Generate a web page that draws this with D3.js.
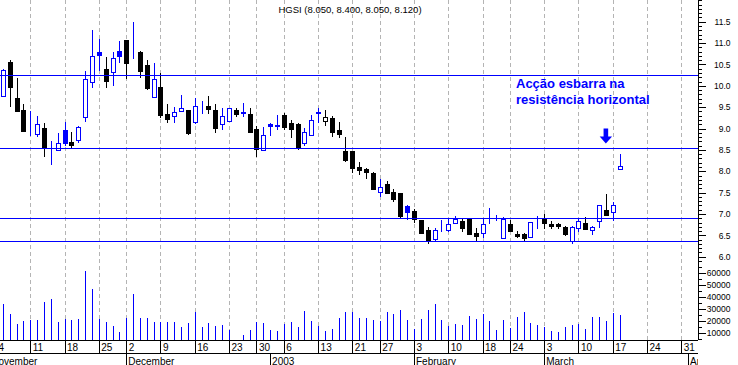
<!DOCTYPE html>
<html><head><meta charset="utf-8">
<script src="https://cdn.jsdelivr.net/npm/d3@7"></script>
<style>body{margin:0;background:#fff}svg{display:block;font-family:"Liberation Sans",Arial,sans-serif}</style>
</head><body>
<svg id="c" width="738" height="365"></svg>
<script>
// ---------- data ----------
const title = "HGSI (8.050, 8.400, 8.050, 8.120)";
const noteLines = ["Acção esbarra na", "resistência horizontal"];
const holidays = ["2002-11-28", "2002-12-25", "2003-01-01", "2003-01-20", "2003-02-17"];
const monthLabels = {"2002-11": "November", "2002-12": "December", "2003-01": "2003", "2003-02": "February", "2003-03": "March", "2003-04": "April"};
const levels = [10.25, 8.54, 6.90, 6.37];
const priceTicks = [6.0, 6.5, 7.0, 7.5, 8.0, 8.5, 9.0, 9.5, 10.0, 10.5, 11.0, 11.5];
const volumeTicks = [10000, 20000, 30000, 40000, 50000, 60000];
const firstCandle = "2002-11-05";
const open  = [9.77,10.56,9.71,9.43,9.00,8.87,9.01,8.62,8.49,8.96,8.68,8.72,9.28,10.10,10.79,10.39,10.33,10.81,11.07,10.85,10.79,10.49,9.73,9.97,9.33,9.29,9.41,9.43,9.16,9.56,9.53,9.43,9.10,9.18,9.43,9.38,9.33,9.00,8.49,9.11,9.08,9.32,9.13,9.11,8.67,8.84,9.38,9.17,9.24,8.97,8.47,8.47,8.10,8.05,7.95,7.51,7.70,7.52,7.50,7.19,7.08,6.86,6.63,6.41,6.69,6.62,6.79,6.84,6.89,6.55,6.55,6.89,6.89,6.43,6.77,6.52,6.53,6.47,6.82,6.89,6.77,6.76,6.70,6.36,6.67,6.80,6.63,6.84,7.09,7.04,8.05];
const high  = [10.40,10.60,10.19,9.57,9.41,9.29,9.12,8.71,8.90,9.15,8.91,9.06,10.35,11.31,11.10,10.68,10.78,11.05,11.08,11.50,10.81,10.60,10.53,10.31,9.57,9.50,9.79,9.44,9.71,9.64,9.76,9.57,9.47,9.48,9.47,9.59,9.47,9.06,9.03,9.14,9.32,9.36,9.20,9.14,9.02,9.32,9.47,9.43,9.29,9.16,8.79,8.48,8.22,8.08,7.98,7.82,7.77,7.59,7.50,7.22,7.12,6.86,6.69,6.67,6.86,6.88,6.95,6.88,6.89,6.67,6.88,7.13,6.98,6.94,6.86,6.61,6.56,6.82,6.95,6.99,6.84,6.79,6.71,6.71,6.88,6.92,6.72,7.21,7.47,7.28,8.40];
const low   = [9.75,9.53,9.40,8.94,8.85,8.83,8.36,8.18,8.49,8.62,8.57,8.69,9.18,9.98,10.37,9.98,10.03,10.56,10.19,10.64,10.21,9.93,9.73,9.28,9.15,9.15,9.41,8.88,9.14,9.36,9.36,8.93,8.98,9.17,9.30,9.30,8.92,8.36,8.49,8.84,9.00,9.00,8.81,8.53,8.61,8.84,9.16,9.08,8.83,8.79,8.24,7.99,7.94,7.85,7.58,7.43,7.48,7.30,6.94,6.89,6.82,6.55,6.33,6.39,6.59,6.61,6.79,6.61,6.52,6.39,6.45,6.80,6.86,6.43,6.59,6.45,6.39,6.46,6.67,6.67,6.67,6.68,6.50,6.33,6.59,6.64,6.52,6.69,6.98,6.86,8.05];
const close = [10.37,9.96,9.42,8.95,9.00,9.10,8.55,8.61,8.66,8.67,8.61,9.04,10.17,10.70,10.73,10.12,10.66,10.70,10.54,10.87,10.35,9.94,10.15,9.32,9.23,9.38,9.47,8.89,9.52,9.55,9.46,9.02,9.29,9.47,9.35,9.37,8.93,8.51,8.84,9.05,9.06,9.03,9.00,8.54,8.91,9.20,9.37,9.26,8.93,8.88,8.26,8.08,8.04,7.99,7.59,7.63,7.50,7.36,6.96,7.05,6.89,6.56,6.37,6.62,6.69,6.76,6.89,6.68,6.54,6.49,6.76,6.89,6.89,6.89,6.61,6.48,6.43,6.81,6.82,6.78,6.72,6.71,6.52,6.69,6.84,6.64,6.69,7.20,6.98,7.20,8.12];
const volume = [34200,25800,17500,19700,20800,20600,35600,38100,18900,21400,20600,21400,61400,46400,21400,18900,15600,10600,22300,42200,22300,22300,19200,19200,19200,19200,15000,18300,27300,15000,18100,15800,16400,12300,4000,8100,12300,18900,18100,12300,11400,17200,18900,14700,28100,19700,15600,11400,13100,22300,27300,27300,22300,22300,20600,19700,27300,25600,28900,20600,13100,21400,28900,33900,20600,15600,17200,16400,23900,21400,25600,19700,12300,20600,13900,23100,27300,18100,16400,14700,11400,10600,14700,16400,17200,13100,23100,23100,19700,26400,24700];
const arrow = {date: "2003-03-14", from: 9.0, to: 8.65};

// ---------- calendar (trading days) ----------
const fmt = d3.timeFormat("%Y-%m-%d");
const days = d3.timeDay.range(new Date(2002, 10, 1), new Date(2003, 3, 3))
  .filter(d => d.getDay() > 0 && d.getDay() < 6 && !holidays.includes(fmt(d)));
const dayKeys = days.map(fmt);
const start = dayKeys.indexOf(firstCandle);
const candles = open.map((o, i) => ({
  date: dayKeys[start + i], o, h: high[i], l: low[i], c: close[i], v: volume[i],
  prev: i > 0 ? close[i - 1] : -Infinity
}));

// ---------- layout ----------
const W = 738, H = 365, axisX = 698, plotBottom = 340, rowBottom = 353;
const svg = d3.select("#c");
const x = d3.scalePoint().domain(dayKeys).range([-10.81, -10.81 + 6.852 * (dayKeys.length - 1)]);
const yP = d3.scaleLinear().domain([6, 11.5]).range([256.7, 21.7]);
const yV = d3.scaleLinear().domain([10000, 60000]).range([332.7, 272.7]);
const px = v => Math.round(v) + 0.5;
const BLUE = "#0000ff";

svg.append("defs").append("clipPath").attr("id", "plot")
  .append("rect").attr("x", 0).attr("y", 0).attr("width", axisX).attr("height", plotBottom);
svg.select("defs").append("clipPath").attr("id", "xaxis")
  .append("rect").attr("x", 0).attr("y", plotBottom).attr("width", axisX).attr("height", H - plotBottom);

// week starts
const weekStarts = dayKeys.filter((k, i) => i === 0 || d3.timeMonday.floor(days[i]).getTime() !== d3.timeMonday.floor(days[i - 1]).getTime()).filter(k => k !== dayKeys[0]);
const monthStarts = dayKeys.filter((k, i) => i === 0 || days[i].getMonth() !== days[i - 1].getMonth());

const plot = svg.append("g").attr("clip-path", "url(#plot)").attr("shape-rendering", "crispEdges");

// dashed grid
plot.selectAll("line.grid").data(weekStarts).join("line").attr("class", "grid")
  .attr("x1", d => px(x(d))).attr("x2", d => px(x(d)))
  .attr("y1", 0).attr("y2", plotBottom)
  .attr("stroke", "#b4b4b4").attr("stroke-dasharray", "4,3");

// volume bars
plot.selectAll("rect.vol").data(candles).join("rect").attr("class", "vol")
  .attr("x", d => Math.round(x(d.date)))
  .attr("width", 1)
  .attr("y", d => Math.min(plotBottom, Math.round(yV(d.v))))
  .attr("height", d => Math.max(0, plotBottom - Math.round(yV(d.v))))
  .attr("fill", BLUE);

// candles
const colorOf = d => d.c >= d.prev ? BLUE : "#000";
const cg = plot.selectAll("g.candle").data(candles).join("g").attr("class", "candle");
cg.append("line")
  .attr("x1", d => px(x(d.date))).attr("x2", d => px(x(d.date)))
  .attr("y1", d => Math.round(yP(d.h))).attr("y2", d => Math.round(yP(d.l)) + 1)
  .attr("stroke", colorOf);
cg.append("rect")
  .attr("x", d => px(x(d.date)) - 2)
  .attr("width", 4)
  .attr("y", d => Math.round(yP(Math.max(d.o, d.c))) + 0.5)
  .attr("height", d => Math.round(yP(Math.min(d.o, d.c))) - Math.round(yP(Math.max(d.o, d.c))))
  .attr("fill", d => d.c < d.o ? colorOf(d) : "#fff")
  .attr("stroke", colorOf);

// resistance / support lines
plot.selectAll("line.level").data(levels).join("line").attr("class", "level")
  .attr("x1", 0).attr("x2", axisX)
  .attr("y1", d => px(yP(d))).attr("y2", d => px(yP(d)))
  .attr("stroke", BLUE);

// ---------- right axis ----------
const ax = svg.append("g").attr("transform", `translate(${axisX + 0.5},0)`).attr("shape-rendering", "crispEdges");
ax.append("g").call(d3.axisRight(yP).tickValues(d3.range(59, 121).map(v => v / 10)).tickSize(3).tickFormat(""))
  .call(g => g.select(".domain").remove());
ax.append("g").call(d3.axisRight(yP).tickValues(priceTicks).tickSize(7).tickFormat(d3.format(".1f")))
  .call(g => g.select(".domain").remove())
  .call(g => g.selectAll("text").attr("x", 32).attr("text-anchor", "end").attr("font-size", 8.5).attr("font-family", "Liberation Sans, Arial, sans-serif").attr("fill", "#000"));
ax.append("g").call(d3.axisRight(yV).tickValues(d3.range(5000, 70000, 5000)).tickSize(3).tickFormat(""))
  .call(g => g.select(".domain").remove());
ax.append("g").call(d3.axisRight(yV).tickValues(volumeTicks).tickSize(7).tickFormat(d3.format("d")))
  .call(g => g.select(".domain").remove())
  .call(g => g.selectAll("text").attr("x", 32).attr("text-anchor", "end").attr("font-size", 8.5).attr("font-family", "Liberation Sans, Arial, sans-serif").attr("fill", "#000"));
ax.append("line").attr("x1", 0).attr("x2", 0).attr("y1", 0).attr("y2", plotBottom).attr("stroke", "#000");

// ---------- bottom date axis ----------
const xa = svg.append("g").attr("clip-path", "url(#xaxis)");
const xl = xa.append("g").attr("shape-rendering", "crispEdges");
xl.append("line").attr("x1", 0).attr("x2", axisX).attr("y1", plotBottom + 0.5).attr("y2", plotBottom + 0.5).attr("stroke", "#000");
xl.append("line").attr("x1", 0).attr("x2", axisX).attr("y1", rowBottom + 0.5).attr("y2", rowBottom + 0.5).attr("stroke", "#000");
const weekTicks = [dayKeys[1]].concat(weekStarts.filter(k => k !== dayKeys[1]));
xl.selectAll("line.wk").data(weekTicks).join("line").attr("class", "wk")
  .attr("x1", d => px(x(d))).attr("x2", d => px(x(d)))
  .attr("y1", plotBottom).attr("y2", rowBottom).attr("stroke", "#000");
xa.selectAll("text.wk").data(weekTicks).join("text").attr("class", "wk")
  .attr("x", d => x(d) + 2.5).attr("y", 350.5)
  .attr("font-size", 10).text(d => +d.slice(8, 10));
xl.selectAll("line.mo").data(monthStarts).join("line").attr("class", "mo")
  .attr("x1", d => px(x(d))).attr("x2", d => px(x(d)))
  .attr("y1", rowBottom).attr("y2", H).attr("stroke", "#000");
xa.selectAll("text.mo").data(monthStarts).join("text").attr("class", "mo")
  .attr("x", d => x(d) + 2).attr("y", 364.5)
  .attr("font-size", 10).text(d => monthLabels[d.slice(0, 7)]);

// ---------- texts ----------
svg.append("text").attr("x", 350).attr("y", 12.5).attr("text-anchor", "middle")
  .attr("font-size", 9.5).text(title);
svg.append("g").selectAll("text").data(noteLines).join("text")
  .attr("x", 516).attr("y", (d, i) => 87.5 + i * 16)
  .attr("font-size", 13).attr("font-weight", "bold").attr("fill", BLUE).text(d => d);

// arrow
const axc = x(arrow.date), a0 = yP(arrow.from), a1 = yP(arrow.to), head = 7;
svg.append("path")
  .attr("d", `M${axc - 2.3},${a0}H${axc + 2.3}V${a1 - head}H${axc + 6.2}L${axc},${a1}L${axc - 6.2},${a1 - head}H${axc - 2.3}Z`)
  .attr("fill", BLUE);
</script>
</body></html>
